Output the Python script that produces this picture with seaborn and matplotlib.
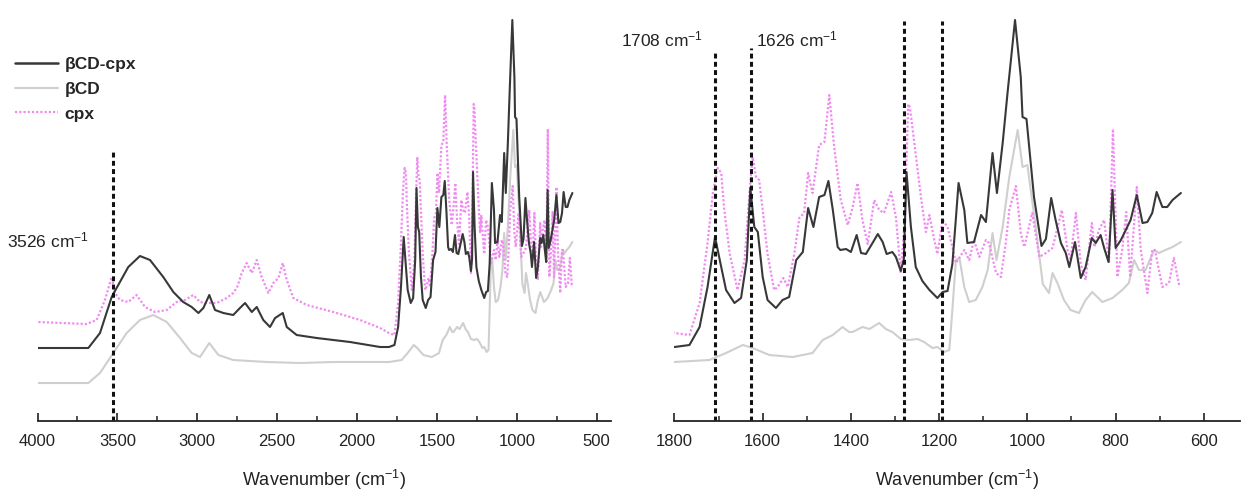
import numpy as np
import pandas as pd
import seaborn as sns
import matplotlib
matplotlib.use("Agg")
import matplotlib.pyplot as plt
from matplotlib.ticker import MultipleLocator
from matplotlib.lines import Line2D

# ---------------- data (wavenumber cm-1, relative transmittance, a.u.) ----------------
wn_complex = [4000, 3682, 3609, 3536, 3505, 3432, 3359, 3296, 3213, 3150, 3088, 3035, 2993, 2962,
              2925, 2889, 2837, 2775, 2733, 2701, 2659, 2628, 2587, 2545, 2513, 2465, 2440, 2378,
              2252, 2044, 1856, 1800, 1766, 1743, 1725, 1708, 1694, 1683, 1664, 1649, 1636, 1628,
              1619, 1611, 1600, 1589, 1570, 1555, 1540, 1524, 1509, 1497, 1485, 1472, 1460, 1451,
              1441, 1430, 1424, 1411, 1400, 1387, 1377, 1366, 1351, 1339, 1328, 1319, 1306, 1298,
              1287, 1280, 1274, 1264, 1253, 1238, 1222, 1204, 1192, 1181, 1170, 1163, 1156, 1143,
              1136, 1121, 1105, 1094, 1079, 1069, 1056, 1045, 1028, 1015, 1011, 1002, 985, 968,
              958, 946, 936, 924, 913, 905, 892, 879, 868, 854, 845, 834, 826, 816, 807, 800, 788,
              777, 766, 752, 739, 728, 717, 707, 694, 683, 671, 652]
ab_complex = [76, 76, 91, 127, 136, 157, 168, 164, 147, 132, 122, 117, 111, 116,
              129, 114, 111, 109, 116, 121, 112, 117, 104, 97, 106, 111, 97, 89,
              86, 82, 77, 77, 79, 97, 137, 187, 157, 134, 121, 126, 164, 236,
              197, 192, 147, 124, 116, 124, 127, 164, 172, 216, 197, 227, 229, 243,
              214, 177, 174, 175, 172, 189, 171, 170, 181, 190, 182, 170, 172, 167,
              153, 165, 252, 197, 157, 143, 134, 126, 132, 133, 160, 200, 241, 214,
              181, 182, 209, 202, 271, 231, 281, 331, 404, 347, 307, 305, 227, 178,
              185, 226, 204, 181, 171, 157, 182, 146, 157, 186, 181, 189, 176, 162, 234, 176, 184,
              194, 204, 229, 201, 202, 211, 232, 217, 217, 224, 231]

wn_bcd = [4000, 3682, 3609, 3526, 3442, 3359, 3275, 3191, 3108, 3035, 2983, 2925, 2868, 2775,
          2566, 2357, 2148, 1856, 1800, 1721, 1683, 1645, 1623, 1585, 1532, 1487, 1464, 1441,
          1419, 1404, 1396, 1374, 1358, 1336, 1321, 1306, 1287, 1268, 1249, 1234, 1215, 1204,
          1189, 1177, 1170, 1162, 1154, 1143, 1132, 1117, 1102, 1090, 1079, 1070, 1056, 1041,
          1022, 1011, 1000, 981, 965, 951, 943, 932, 917, 902, 883, 868, 853, 830, 807, 785,
          770, 758, 747, 732, 713, 702, 687, 671, 652]
ab_bcd = [41, 41, 51, 71, 91, 104, 109, 102, 86, 71, 67, 81, 69, 64,
          62, 61, 62, 62, 62, 64, 71, 79, 76, 69, 67, 71, 84, 89,
          97, 92, 92, 97, 95, 101, 95, 92, 85, 84, 85, 82, 76, 77,
          72, 74, 114, 164, 166, 137, 122, 124, 137, 154, 191, 164, 197, 247,
          294, 257, 259, 197, 140, 131, 151, 141, 124, 114, 111, 124, 132, 122, 126, 134,
          141, 164, 154, 154, 174, 171, 174, 177, 182]

wn_cpx = [4000, 3693, 3630, 3578, 3536, 3515, 3484, 3432, 3380, 3327, 3265, 3191, 3129, 3077,
          3025, 2983, 2941, 2879, 2816, 2775, 2750, 2722, 2691, 2659, 2628, 2597, 2555, 2524,
          2492, 2465, 2440, 2399, 2315, 2148, 1981, 1856, 1800, 1766, 1743, 1725, 1713, 1702,
          1694, 1687, 1675, 1657, 1641, 1630, 1623, 1615, 1608, 1600, 1589, 1574, 1566, 1553,
          1543, 1528, 1517, 1506, 1497, 1487, 1472, 1460, 1449, 1438, 1423, 1407, 1396, 1385,
          1374, 1362, 1347, 1336, 1325, 1309, 1298, 1287, 1279, 1270, 1266, 1256, 1241, 1230,
          1222, 1211, 1204, 1192, 1181, 1170, 1162, 1143, 1132, 1121, 1109, 1094, 1087, 1071,
          1060, 1049, 1041, 1026, 1015, 1007, 989, 973, 958, 943, 922, 909, 902, 890, 879, 868,
          854, 848, 838, 826, 815, 806, 796, 785, 776, 767, 752, 743, 728, 717, 711, 694, 679,
          668, 656]
ab_cpx = [102, 100, 104, 124, 147, 131, 124, 122, 129, 117, 112, 114, 122, 124,
          129, 122, 121, 121, 126, 131, 137, 151, 161, 151, 164, 147, 131, 141,
          146, 161, 144, 126, 119, 112, 104, 96, 91, 89, 121, 181, 231, 256,
          251, 214, 171, 134, 164, 231, 267, 247, 244, 214, 170, 134, 137, 146,
          137, 171, 206, 211, 251, 231, 279, 282, 329, 277, 224, 199, 217, 241,
          204, 180, 224, 214, 211, 232, 207, 151, 197, 320, 316, 280, 226, 192,
          209, 184, 170, 204, 197, 177, 161, 174, 164, 184, 167, 184, 181, 151,
          147, 181, 214, 238, 191, 177, 211, 167, 171, 176, 214, 174, 165, 211, 160, 144,
          201, 177, 194, 204, 161, 295, 147, 174, 212, 147, 237, 174, 131, 174, 174, 137, 141,
          166, 139]

series_labels = ["\u03b2CD-cpx", "\u03b2CD", "cpx"]
marked_left = [3526]
marked_right = [1708, 1626, 1279, 1193]

# ---------------- style ----------------
sns.set_theme(style="white")
plt.rcParams["font.family"] = ["Liberation Sans", "DejaVu Sans"]
plt.rcParams["mathtext.default"] = "regular"

fig = plt.figure(figsize=(12.43, 4.92), dpi=100)
fig.patch.set_facecolor("white")

YLIM = (3, 409)
ax1 = fig.add_axes([0.0302, 0.1443, 0.4614, 0.8252])
ax2 = fig.add_axes([0.5426, 0.1443, 0.4550, 0.8252])

c_dark = "#383838"
c_light = "#cfcfcf"
c_pink = "#f08cf0"
pink_ls = (0, (1, 0.9))

for ax in (ax1, ax2):
    sns.lineplot(x=wn_bcd, y=ab_bcd, ax=ax, color=c_light, lw=1.5, label=series_labels[1], legend=False)
    sns.lineplot(x=wn_cpx, y=ab_cpx, ax=ax, color=c_pink, lw=1.6, ls=pink_ls,
                 label=series_labels[2], legend=False)
    sns.lineplot(x=wn_complex, y=ab_complex, ax=ax, color=c_dark, lw=1.5, label=series_labels[0],
                 legend=False)
    ax.set_ylim(*YLIM)
    ax.set_yticks([])
    ax.set_ylabel("")
    for s in ("left", "right", "top"):
        ax.spines[s].set_visible(False)
    ax.spines["bottom"].set_color("#222222")
    ax.spines["bottom"].set_linewidth(1.3)
    ax.tick_params(axis="x", which="major", direction="in", length=6, width=1.2,
                   colors="#222222", labelsize=12, pad=9, bottom=True)
    ax.tick_params(axis="x", which="minor", direction="in", length=3.5, width=1.1,
                   colors="#222222", bottom=True)
    ax.set_xlabel("Wavenumber (cm$^{-1}$)", fontsize=13, labelpad=14, color="#222222")
    ax.set_facecolor("white")

ax1.set_xlim(4000, 410)
ax1.xaxis.set_major_locator(MultipleLocator(500))
ax1.xaxis.set_minor_locator(MultipleLocator(250))

ax2.set_xlim(1800, 518)
ax2.xaxis.set_major_locator(MultipleLocator(200))
ax2.xaxis.set_minor_locator(MultipleLocator(100))

dash = (0, (1.6, 1.1))
for w in marked_left:
    ax1.vlines(w, YLIM[0], 274, colors="#111111", lw=2.2, linestyles=[dash])
ax1.text(4193, 184, "3526 cm$^{-1}$", fontsize=12.5, ha="left", va="center", color="#222222")

tops = {1708: 374, 1626: 376, 1279: 403, 1193: 403}
for w in marked_right:
    ax2.vlines(w, YLIM[0], tops[w], colors="#111111", lw=2.2, linestyles=[dash])
ax2.text(1800 + (675 - 621.7) / 0.4415, 385, "1708 cm$^{-1}$", fontsize=12.5, ha="left", va="center",
         color="#222222")
ax2.text(1800 - (756.7 - 675) / 0.4415, 385, "1626 cm$^{-1}$", fontsize=12.5, ha="left", va="center",
         color="#222222")

handles = [Line2D([], [], color=c_dark, lw=1.8),
           Line2D([], [], color=c_light, lw=1.5),
           Line2D([], [], color=c_pink, lw=1.6, ls=pink_ls)]
leg = fig.legend(handles, series_labels, loc="upper left",
                 bbox_to_anchor=(15 / 1243, 1 - 57 / 492), bbox_transform=fig.transFigure,
                 frameon=False, handlelength=2.45, handletextpad=0.4, labelspacing=0.55,
                 borderpad=0, borderaxespad=0, prop={"weight": "bold", "size": 12.5})

fig.savefig("out.png", dpi=100, facecolor="white")
